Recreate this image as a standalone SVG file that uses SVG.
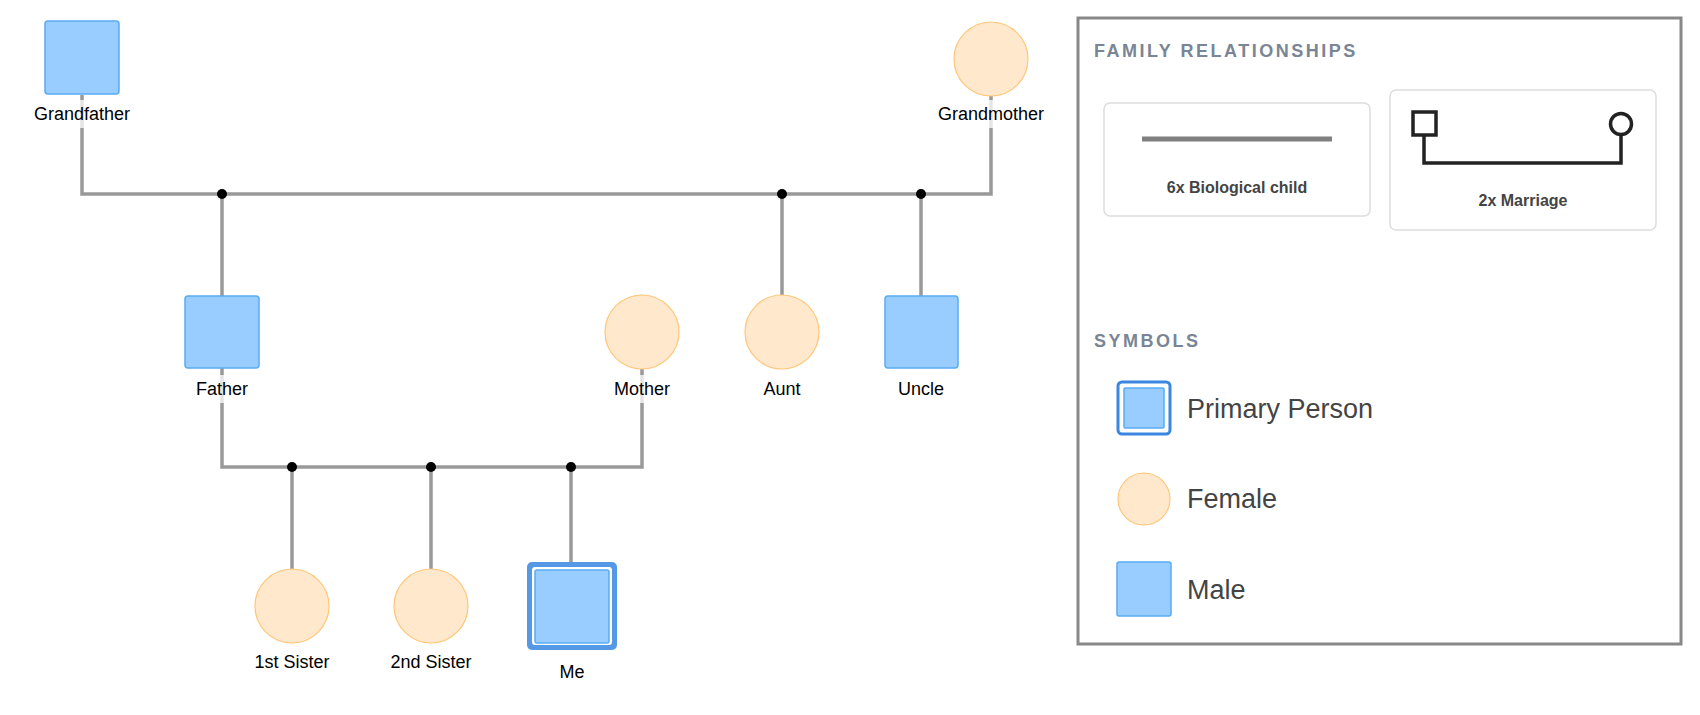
<svg xmlns="http://www.w3.org/2000/svg" width="1700" height="715" viewBox="0 0 1700 715">
<style>
.m{fill:#99ccff;stroke:#5aabf5;stroke-width:1.5}
.f{fill:#ffe8cc;stroke:#ffc67a;stroke-width:1.2}
.lbl{font-family:"Liberation Sans",Arial,sans-serif;font-size:18px;fill:#000;text-anchor:middle}
.ln{fill:none;stroke:#999;stroke-width:3.5}
.dot{fill:#000}
.h{font-family:"Liberation Sans",Arial,sans-serif;font-size:18px;font-weight:bold;fill:#7a8595;letter-spacing:2.5px}
.cap{font-family:"Liberation Sans",Arial,sans-serif;font-size:16px;font-weight:bold;fill:#444;text-anchor:middle}
.sym{font-family:"Liberation Sans",Arial,sans-serif;font-size:27px;fill:#444}
.card{fill:#fff;stroke:#ddd;stroke-width:1.5}
.lb{fill:#fff;opacity:0.75}
</style>
<rect width="1700" height="715" fill="#fff"/>
<g id="connectors">
<polyline class="ln" points="82,95 82,194 991,194 991,96"/>
<line class="ln" x1="222" y1="194" x2="222" y2="296"/>
<line class="ln" x1="782" y1="194" x2="782" y2="295"/>
<line class="ln" x1="921" y1="194" x2="921" y2="296"/>
<polyline class="ln" points="222,368 222,467 642,467 642,369"/>
<line class="ln" x1="292" y1="467" x2="292" y2="569"/>
<line class="ln" x1="431" y1="467" x2="431" y2="569"/>
<line class="ln" x1="571" y1="467" x2="571" y2="570"/>
<circle class="dot" cx="222" cy="194" r="5"/>
<circle class="dot" cx="782" cy="194" r="5"/>
<circle class="dot" cx="921" cy="194" r="5"/>
<circle class="dot" cx="292" cy="467" r="5"/>
<circle class="dot" cx="431" cy="467" r="5"/>
<circle class="dot" cx="571" cy="467" r="5"/>
</g>
<g id="grandfather"><rect class="m" x="45" y="21" width="74" height="73" rx="3"/><rect class="lb" x="28" y="100" width="108" height="28"/><text class="lbl" x="82" y="120">Grandfather</text></g>
<g id="grandmother"><circle class="f" cx="991" cy="59" r="37"/><rect class="lb" x="930" y="100" width="122" height="28"/><text class="lbl" x="991" y="120">Grandmother</text></g>
<g id="father"><rect class="m" x="185" y="296" width="74" height="72" rx="3"/><rect class="lb" x="190" y="375" width="64" height="28"/><text class="lbl" x="222" y="395">Father</text></g>
<g id="mother"><circle class="f" cx="642" cy="332" r="37"/><rect class="lb" x="608" y="375" width="68" height="28"/><text class="lbl" x="642" y="395">Mother</text></g>
<g id="aunt"><circle class="f" cx="782" cy="332" r="37"/><text class="lbl" x="782" y="395">Aunt</text></g>
<g id="uncle"><rect class="m" x="885" y="296" width="73" height="72" rx="3"/><text class="lbl" x="921" y="395">Uncle</text></g>
<g id="sister1"><circle class="f" cx="292" cy="606" r="37"/><text class="lbl" x="292" y="668">1st Sister</text></g>
<g id="sister2"><circle class="f" cx="431" cy="606" r="37"/><text class="lbl" x="431" y="668">2nd Sister</text></g>
<g id="me"><rect x="527" y="562" width="90" height="88" rx="5" fill="#5599e6"/><rect x="532" y="567" width="80" height="78" rx="3" fill="#fff"/><rect class="m" x="535" y="570" width="74" height="73" rx="2"/><text class="lbl" x="572" y="678">Me</text></g>
<g id="legend">
<rect x="1078" y="18" width="603" height="626" fill="#fff" stroke="#888" stroke-width="3"/>
<text class="h" x="1094" y="57">FAMILY RELATIONSHIPS</text>
<rect class="card" x="1104" y="103" width="266" height="113" rx="6"/>
<line x1="1142" y1="139" x2="1332" y2="139" stroke="#808080" stroke-width="5"/>
<text class="cap" x="1237" y="193">6x Biological child</text>
<rect class="card" x="1390" y="90" width="266" height="140" rx="6"/>
<polyline points="1424,136 1424,163 1621,163 1621,135" fill="none" stroke="#222" stroke-width="3.5"/>
<rect x="1413" y="112" width="23" height="23" fill="#fff" stroke="#222" stroke-width="3.5"/>
<circle cx="1621" cy="124" r="10.5" fill="#fff" stroke="#222" stroke-width="3.5"/>
<text class="cap" x="1523" y="206">2x Marriage</text>
<text class="h" x="1094" y="347">SYMBOLS</text>
<rect x="1118" y="382" width="52" height="52" rx="4" fill="#fff" stroke="#3a86e0" stroke-width="3"/>
<rect class="m" x="1124" y="388" width="40" height="40" rx="1"/>
<text class="sym" x="1187" y="418">Primary Person</text>
<circle class="f" cx="1144" cy="499" r="26"/>
<text class="sym" x="1187" y="508">Female</text>
<rect class="m" x="1117" y="562" width="54" height="54" rx="2"/>
<text class="sym" x="1187" y="599">Male</text>
</g>
</svg>
